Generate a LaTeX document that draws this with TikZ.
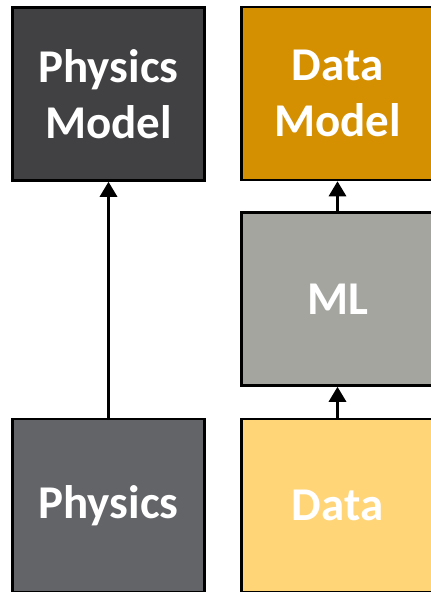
\documentclass[tikz,border=0pt]{standalone}
\usepackage{fontspec}
\setmainfont{Carlito}
\usepackage{tikz}
\usetikzlibrary{arrows.meta}
\definecolor{physmodel}{HTML}{414143}
\definecolor{datamodel}{HTML}{D49000}
\definecolor{mlgray}{HTML}{A5A5A0}
\definecolor{physgray}{HTML}{636468}
\definecolor{datayellow}{HTML}{FFD578}
\tikzset{
  block/.style={draw=black, line width=2.5pt, minimum width=192pt, minimum height=173pt,
    inner sep=0pt, align=center, text=white, font=\fontsize{47}{56}\selectfont\bfseries},
  flow/.style={line width=3pt, -{Triangle[width=17pt,length=15pt]}}
}
\begin{document}
\begin{tikzpicture}[x=1pt,y=-1pt]
  \useasboundingbox (0,0) rectangle (431,592);
  \node[block, fill=physmodel] (physmodel) at (108.5,94) {Physics\\Model};
  \node[block, fill=datamodel] (datamodel) at (337.5,93.5) {Data\\Model};
  \node[block, fill=mlgray] (ml) at (337.5,299) {ML};
  \node[block, fill=physgray] (physics) at (108.5,505.5) {Physics};
  \node[block, fill=datayellow] (data) at (337.5,505.5) {Data};
  \draw[flow] (physics) -- (physmodel);
  \draw[flow] (data) -- (ml);
  \draw[flow] (ml) -- (datamodel);
\end{tikzpicture}
\end{document}
